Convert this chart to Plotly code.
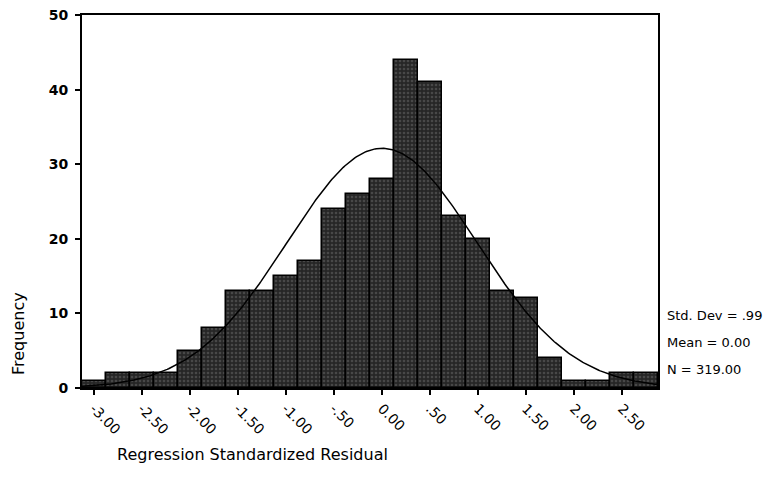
import numpy as np
import plotly.graph_objects as go

# Histogram bins (centers) and frequencies
bin_centers = [-3.00, -2.75, -2.50, -2.25, -2.00, -1.75, -1.50, -1.25, -1.00, -0.75,
               -0.50, -0.25, 0.00, 0.25, 0.50, 0.75, 1.00, 1.25, 1.50, 1.75,
               2.00, 2.25, 2.50, 2.75]
frequencies = [1, 2, 2, 2, 5, 8, 13, 13, 15, 17,
               24, 26, 28, 44, 41, 23, 20, 13, 12, 4,
               1, 1, 2, 2]
bin_width = 0.25

x_tick_vals = [-3.0, -2.5, -2.0, -1.5, -1.0, -0.5, 0.0, 0.5, 1.0, 1.5, 2.0, 2.5]
x_tick_text = ["-3.00", "-2.50", "-2.00", "-1.50", "-1.00", "-.50", "0.00",
               ".50", "1.00", "1.50", "2.00", "2.50"]
y_tick_vals = [0, 10, 20, 30, 40, 50]

std_dev = 0.99
mean = 0.00
n_obs = 319
stats_lines = ["Std. Dev = .99", "Mean = 0.00", "N = 319.00"]

# Fitted normal curve from the stated mean / std. dev.
xs = np.linspace(-3.125, 2.875, 400)
ys = n_obs * bin_width / (std_dev * np.sqrt(2 * np.pi)) * np.exp(-0.5 * ((xs - mean) / std_dev) ** 2)

fig = go.Figure()
fig.add_trace(go.Bar(
    x=bin_centers, y=frequencies, width=bin_width,
    marker=dict(color="#333333", line=dict(color="black", width=1.5),
                pattern=dict(shape=".", fgcolor="#6a6a6a", bgcolor="#262626", size=4, solidity=0.35)),
    showlegend=False, hoverinfo="x+y",
))
fig.add_trace(go.Scatter(x=xs, y=ys, mode="lines", line=dict(color="black", width=1.5),
                         showlegend=False, hoverinfo="skip"))

# page body has an 8px margin, so the figure is sized / offset to compensate
W, H = 766, 482
L, T, R, B = 74, 7, 116, 102
PW, PH = W - L - R, H - T - B

def px_x(page_x):
    return (page_x - 8 - L) / PW

def px_y(page_y):
    return (H - B - (page_y - 8)) / PH

fig.update_layout(
    width=W, height=H,
    margin=dict(l=L, r=R, t=T, b=B, autoexpand=False),
    paper_bgcolor="white", plot_bgcolor="white",
    bargap=0,
    font=dict(family="DejaVu Sans", color="black"),
)
fig.update_xaxes(
    range=[-3.125, 2.875], tickvals=x_tick_vals, ticktext=x_tick_text,
    tickangle=45, ticks="outside", ticklen=5, tickwidth=2, tickcolor="black",
    showline=True, linecolor="black", linewidth=2, mirror=True, automargin=False,
    showgrid=False, zeroline=False, tickfont=dict(size=14, family="DejaVu Sans"),
    ticklabeloverflow="allow",
)
fig.update_yaxes(
    range=[0, 50], tickvals=y_tick_vals, ticks="outside", ticklen=5, tickwidth=2,
    tickcolor="black", showline=True, linecolor="black", linewidth=2, mirror=True,
    showgrid=False, zeroline=False, automargin=False, ticklabeloverflow="allow",
    ticklabelstandoff=4,
    tickfont=dict(size=14, family="DejaVu Sans", weight="bold"),
)

fig.add_annotation(text="Regression Standardized Residual", xref="paper", yref="paper",
                   x=px_x(115), y=px_y(455), xanchor="left", yanchor="middle",
                   showarrow=False, font=dict(size=16, family="DejaVu Sans"))
fig.add_annotation(text="Frequency", xref="paper", yref="paper",
                   x=px_x(18), y=px_y(334), xanchor="center", yanchor="middle",
                   textangle=-90, showarrow=False, font=dict(size=16, family="DejaVu Sans"))
for i, line in enumerate(stats_lines):
    fig.add_annotation(text=line, xref="paper", yref="paper",
                       x=px_x(665), y=px_y(315 + 27 * i),
                       xanchor="left", yanchor="middle", showarrow=False,
                       font=dict(size=13, family="DejaVu Sans"))

fig.write_html("out.html")
